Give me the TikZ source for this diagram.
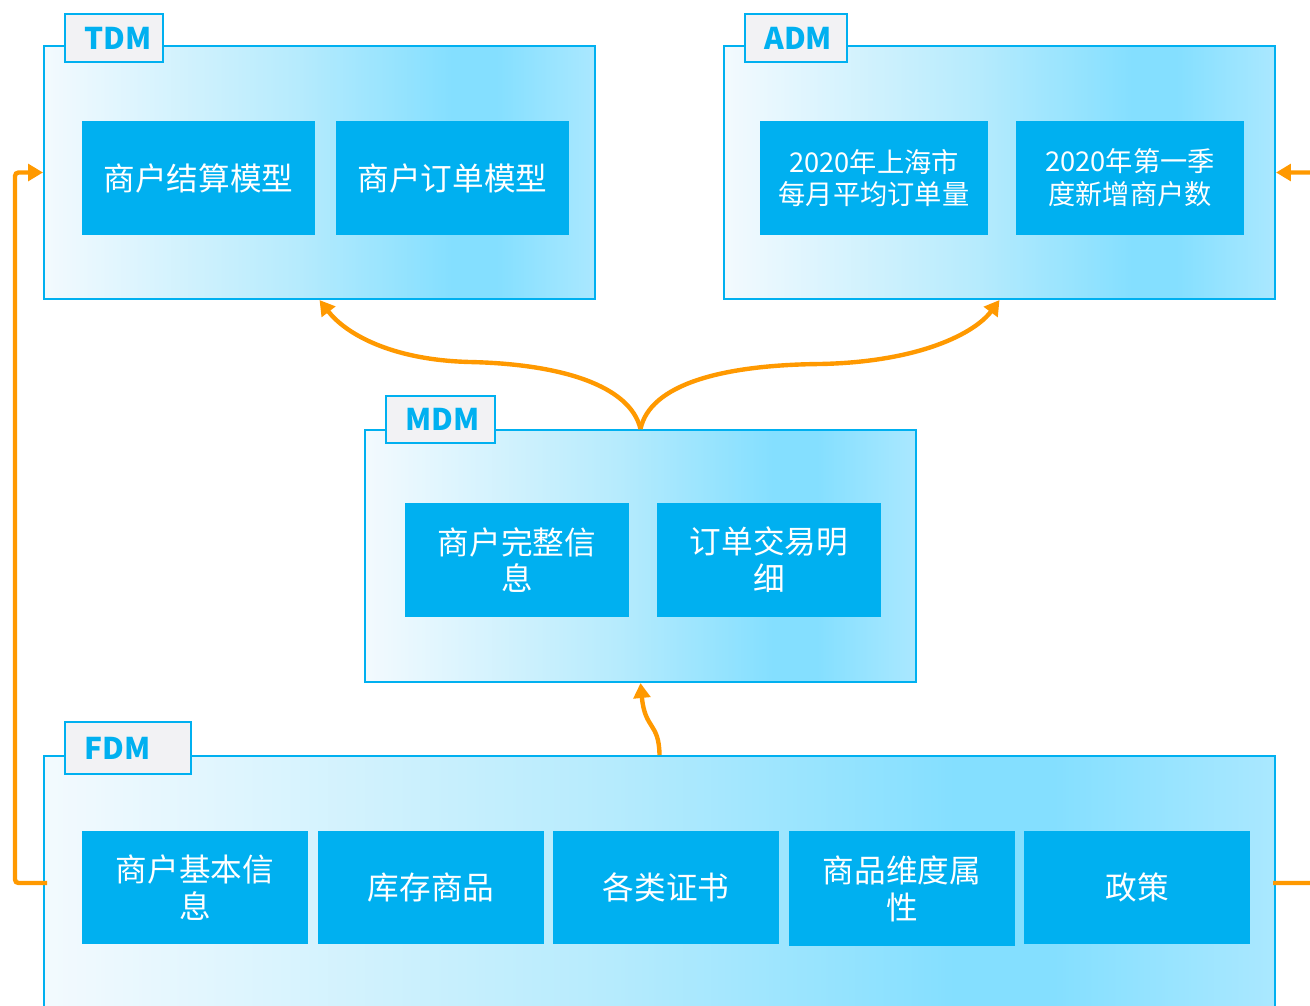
\documentclass[tikz,border=0pt]{standalone}
\usepackage{fontspec}
\setmainfont{Noto Sans CJK SC}
\usetikzlibrary{arrows.meta}
\definecolor{boxblue}{HTML}{00B0F0}
\definecolor{tabgray}{HTML}{F2F2F4}
\definecolor{flowline}{HTML}{FF9900}
\definecolor{shadeA}{HTML}{F3FAFE}
\definecolor{shadeB}{HTML}{B6EBFD}
\definecolor{shadeC}{HTML}{84DFFF}
\definecolor{shadeD}{HTML}{AAE8FF}
\pgfdeclarehorizontalshading{layershade}{100bp}{color(0bp)=(shadeA); color(25bp)=(shadeA); color(48bp)=(shadeB); color(62bp)=(shadeC); color(66bp)=(shadeC); color(75bp)=(shadeD); color(100bp)=(shadeD)}
\begin{document}
\begin{tikzpicture}[x=0.02cm, y=-0.02cm,
    layer/.style={draw=boxblue, line width=1.2pt, shade, shading=layershade, inner sep=0pt},
    tab/.style={draw=boxblue, line width=1pt, fill=tabgray, anchor=north west, inner sep=0pt},
    tabtext/.style={anchor=west, text=boxblue, font=\bfseries\fontsize{17}{20}\selectfont, inner sep=0pt},
    item/.style={fill=boxblue, text=white, align=center, inner sep=0pt, font=\fontsize{18}{21}\selectfont},
    smallitem/.style={item, font=\fontsize{15.5}{18.7}\selectfont},
    flow/.style={draw=flowline, line width=2.5pt, -{Triangle[length=8.5pt,width=9.5pt]}}]
  \useasboundingbox (0,0) rectangle (1310,1005);
  \clip (0,0) rectangle (1310,1005);
  % layers
  \node[layer, minimum width=11.02cm, minimum height=5.06cm] (tdm) at (319.5,172.5) {};
  \node[layer, minimum width=11.02cm, minimum height=5.06cm] (adm) at (999.5,172.5) {};
  \node[layer, minimum width=11.02cm, minimum height=5.04cm] (mdm) at (640.5,556) {};
  \node[layer, minimum width=24.62cm, minimum height=5.28cm] (fdm) at (659.5,888) {};
  % tabs
  \node[tab, minimum width=1.96cm, minimum height=0.96cm] (tdmtab) at (64,13) {};
  \node[tabtext] (tdmlabel) at ([xshift=0.4cm]tdmtab.west) {TDM};
  \node[tab, minimum width=2.04cm, minimum height=0.96cm] (admtab) at (744,13) {};
  \node[tabtext] (admlabel) at ([xshift=0.4cm]admtab.west) {ADM};
  \node[tab, minimum width=2.18cm, minimum height=0.94cm] (mdmtab) at (385,395) {};
  \node[tabtext] (mdmlabel) at ([xshift=0.4cm]mdmtab.west) {MDM};
  \node[tab, minimum width=2.52cm, minimum height=1.04cm] (fdmtab) at (64,721) {};
  \node[tabtext] (fdmlabel) at ([xshift=0.4cm]fdmtab.west) {FDM};
  % TDM
  \node[item, minimum width=4.66cm, minimum height=2.28cm] (settle) at (198.5,178) {商户结算模型};
  \node[item, minimum width=4.66cm, minimum height=2.28cm] (ordermodel) at (452.5,178) {商户订单模型};
  % ADM
  \node[smallitem, minimum width=4.56cm, minimum height=2.28cm] (monthly) at (874,178) {2020年上海市\\每月平均订单量};
  \node[smallitem, minimum width=4.56cm, minimum height=2.28cm] (newshops) at (1130,178) {2020年第一季\\度新增商户数};
  % MDM
  \node[item, minimum width=4.48cm, minimum height=2.28cm] (shopinfo) at (517,560) {商户完整信\\息};
  \node[item, minimum width=4.48cm, minimum height=2.28cm] (trade) at (769,560) {订单交易明\\细};
  % FDM
  \node[item, minimum width=4.52cm, minimum height=2.26cm] (basic) at (195,887.5) {商户基本信\\息};
  \node[item, minimum width=4.52cm, minimum height=2.26cm] (stock) at (431,887.5) {库存商品};
  \node[item, minimum width=4.52cm, minimum height=2.26cm] (cert) at (666,887.5) {各类证书};
  \node[item, minimum width=4.52cm, minimum height=2.30cm] (dims) at (902,888.5) {商品维度属\\性};
  \node[item, minimum width=4.52cm, minimum height=2.26cm] (policy) at (1137,887.5) {政策};
  % flows
  \coordinate (fdmleft) at (47,883);
  \coordinate (fdmright) at (1273,883);
  \draw[flow, rounded corners=2pt] (fdmleft) -- (15,883) |- (tdm.west);
  \draw[flow, rounded corners=2pt] (fdmright) -- (1340,883) |- (adm.east);
  \draw[flow] (mdm.north) .. controls (630,385) and (560,364) .. (470,362) .. controls (390,360) and (345,333) .. (tdm.south);
  \draw[flow] (mdm.north) .. controls (650,385) and (720,365) .. (820,364) .. controls (920,362) and (975,333) .. (adm.south);
  \draw[flow] (fdm.north) .. controls (659,722) and (645,730) .. (mdm.south);
\end{tikzpicture}
\end{document}
